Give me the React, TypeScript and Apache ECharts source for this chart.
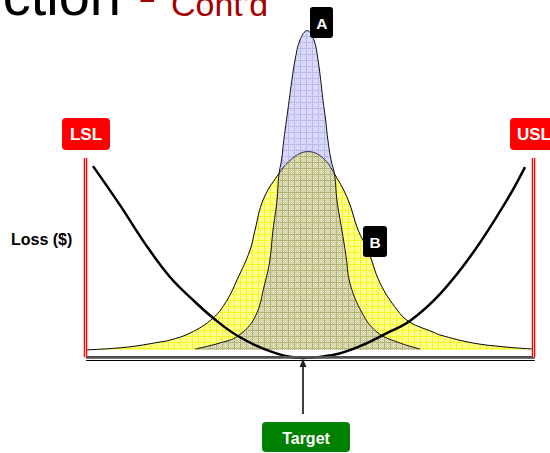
import React, { useEffect, useRef } from 'react';
import * as echarts from 'echarts';

// Process A (narrow distribution): [position, density]
const processA: number[][] = [
  [24.7, 0.3], [30.2, 2.2], [34.2, 4.4], [38.0, 10.3], [40.2, 20.9], [41.3, 28.1],
  [42.0, 37.5], [42.9, 46.9], [43.3, 54.7], [43.9, 59.4], [44.4, 65.6], [45.0, 71.9],
  [45.6, 78.1], [46.2, 84.4], [46.9, 90.6], [48.0, 96.9], [49.6, 99.8], [51.1, 96.9],
  [52.0, 90.6], [52.6, 84.4], [53.1, 78.1], [53.7, 71.9], [54.2, 65.6], [54.9, 59.4],
  [55.7, 54.7], [56.2, 46.9], [57.3, 37.5], [58.2, 29.7], [59.1, 20.9], [61.8, 11.6],
  [65.1, 5.6], [69.6, 2.5], [74.7, 0.3],
];

// Process B (wide distribution): [position, density]
const processB: number[][] = [
  [0.2, 0], [9.6, 0.9], [16.9, 2.5], [19.1, 3.1], [23.6, 5.3], [28.7, 10], [31.8, 15.6],
  [34.0, 21.9], [36.9, 31.2], [38.0, 37.5], [39.8, 46.9], [43.1, 54.7], [46.4, 60],
  [49.8, 62], [53.1, 60], [55.8, 54.7], [58.7, 46.9], [60.9, 37.5], [63.1, 31.2],
  [65.8, 20.9], [69.6, 12.5], [72.4, 8.7], [77.6, 5.6], [79.1, 4.7], [86.4, 2.2],
  [94.0, 0.9], [99.8, 0.3],
];

// Taguchi loss curve: [position, loss]
const lossCurve: number[][] = [
  [2.0, 58.5], [8.0, 46.6], [13.6, 34.8], [19.1, 24.7], [24.2, 17.7], [28.7, 12.2],
  [34.2, 6.7], [41.3, 2.1], [48.7, 0], [55.3, 0.9], [61.3, 3.6], [67.3, 7.6], [72.4, 11.3],
  [79.1, 19.5], [86.4, 32.0], [94.0, 48.2], [98.0, 58.2],
];

const specLimitNames = ['LSL', 'USL'];
const specLimitX = [0.33, 99.89];
const specLimitTop = 61;
const baselineX = [0.44, 100.2];
const distributionNames = ['A', 'B'];
const targetLabel = 'Target';
const lossLabel = 'Loss ($)';
const titleMain = 'ction';
const titleSub = "Cont'd";

function makeTile(base: string, line: string, dot: string) {
  const size = 6;
  const c = document.createElement('canvas');
  c.width = size;
  c.height = size;
  const ctx = c.getContext('2d')!;
  for (let y = 0; y < size; y++) {
    for (let x = 0; x < size; x++) {
      let col = base;
      if (x === 0 || y === 0) col = line;
      else if ((x + y) % 2 === 0) col = dot;
      ctx.clearRect(x, y, 1, 1);
      ctx.fillStyle = col;
      ctx.fillRect(x, y, 1, 1);
    }
  }
  return c;
}

export default function App() {
  const ref = useRef<HTMLDivElement>(null);

  useEffect(() => {
    if (!ref.current) return;
    const chart = echarts.init(ref.current, null, { renderer: 'svg' });
    const font = "'Liberation Sans', Arial, sans-serif";

    const yellowTile = makeTile('#ffff50', '#f4f420', '#ffffc8');
    const blueTile = makeTile('rgba(120,120,240,0.36)', 'rgba(100,100,215,0.45)', 'rgba(150,150,250,0.28)');

    const txt = (text: string, x: number, y: number, size: number, fill: string, bold: boolean, align = 'center') => ({
      type: 'text',
      x,
      y,
      z: 100,
      silent: true,
      style: {
        text,
        fill,
        font: `${bold ? 'bold ' : ''}${size}px ${font}`,
        align,
        textAlign: align,
        verticalAlign: 'middle',
        textVerticalAlign: 'middle',
      },
    });
    const box = (x: number, y: number, w: number, h: number, fill: string, r: number) => ({
      type: 'rect',
      z: 99,
      silent: true,
      shape: { x, y, width: w, height: h, r },
      style: { fill },
    });

    const limitSeries: any[] = [];
    specLimitX.forEach((x, i) => {
      limitSeries.push({
        name: specLimitNames[i],
        type: 'line',
        data: [[x, 0.2], [x, specLimitTop]],
        symbol: 'none',
        lineStyle: { color: '#ff0000', width: 3.5 },
        z: 6,
        silent: true,
      });
      limitSeries.push({
        type: 'line',
        data: [[x, 0.2], [x, specLimitTop]],
        symbol: 'none',
        lineStyle: { color: '#ffc4c4', width: 1 },
        z: 7,
        silent: true,
      });
    });

    chart.setOption({
      animation: false,
      grid: { left: 75, right: 7, top: 30, bottom: 88.44 },
      xAxis: { type: 'value', min: -2, max: 102, show: false },
      yAxis: [
        { type: 'value', min: -2, max: 100, show: false },
        { type: 'value', min: -4.55, max: 100, show: false },
      ],
      series: [
        {
          name: distributionNames[1],
          type: 'line',
          yAxisIndex: 1,
          data: processB,
          smooth: 0.4,
          symbol: 'none',
          lineStyle: { color: '#000', width: 1 },
          areaStyle: {
            color: { image: yellowTile, repeat: 'repeat', imageWidth: 6, imageHeight: 6 },
            opacity: 1,
          },
          z: 2,
          silent: true,
        },
        {
          name: distributionNames[0],
          type: 'line',
          yAxisIndex: 1,
          data: processA,
          smooth: 0.4,
          symbol: 'none',
          lineStyle: { color: '#111', width: 1 },
          areaStyle: {
            color: { image: blueTile, repeat: 'repeat', imageWidth: 6, imageHeight: 6 },
            opacity: 1,
          },
          z: 3,
          silent: true,
        },
        {
          name: 'Loss',
          type: 'line',
          data: lossCurve,
          smooth: 0.4,
          symbol: 'none',
          lineStyle: { color: '#000', width: 2.5 },
          z: 4,
          silent: true,
        },
        ...limitSeries,
        {
          type: 'line',
          data: [[baselineX[0], 0.2], [baselineX[1], 0.2]],
          symbol: 'none',
          lineStyle: { color: '#505050', width: 2.7 },
          z: 5,
          silent: true,
        },
        {
          type: 'line',
          data: [[baselineX[0], -0.76], [baselineX[1], -0.76]],
          symbol: 'none',
          lineStyle: { color: '#000', width: 1.2 },
          z: 5,
          silent: true,
        },
      ],
      graphic: [
        txt(titleMain, 121, -4.4, 56, '#000', false, 'right'),
        txt('-', 138, -4.4, 56, '#a50000', false, 'left'),
        txt(titleSub, 171, 3.7, 34, '#a50000', false, 'left'),
        box(62, 118, 48, 32, '#ff0000', 4),
        txt(specLimitNames[0], 86, 134.5, 17, '#fff', true),
        box(510, 118, 48, 32, '#ff0000', 4),
        txt(specLimitNames[1], 534, 134.5, 17, '#fff', true),
        box(310, 7, 23, 31, '#000', 3),
        txt(distributionNames[0], 321.8, 23, 15.5, '#fff', true),
        box(363, 226, 24, 31, '#000', 3),
        txt(distributionNames[1], 375, 242, 15.5, '#fff', true),
        txt(lossLabel, 11, 239, 16, '#000', true, 'left'),
        {
          type: 'line',
          z: 98,
          silent: true,
          shape: { x1: 303, y1: 414, x2: 303, y2: 366 },
          style: { stroke: '#404040', lineWidth: 2 },
        },
        {
          type: 'polygon',
          z: 98,
          silent: true,
          shape: { points: [[303, 359], [299.5, 367], [306.5, 367]] },
          style: { fill: '#202020' },
        },
        box(262, 422, 88, 30, '#008000', 4),
        txt(targetLabel, 306, 438.5, 16, '#fff', true),
      ],
    });

    return () => chart.dispose();
  }, []);

  return (
    <div
      ref={ref}
      style={{ position: 'fixed', left: 0, top: 0, width: 550, height: 453, background: '#fff' }}
    />
  );
}
